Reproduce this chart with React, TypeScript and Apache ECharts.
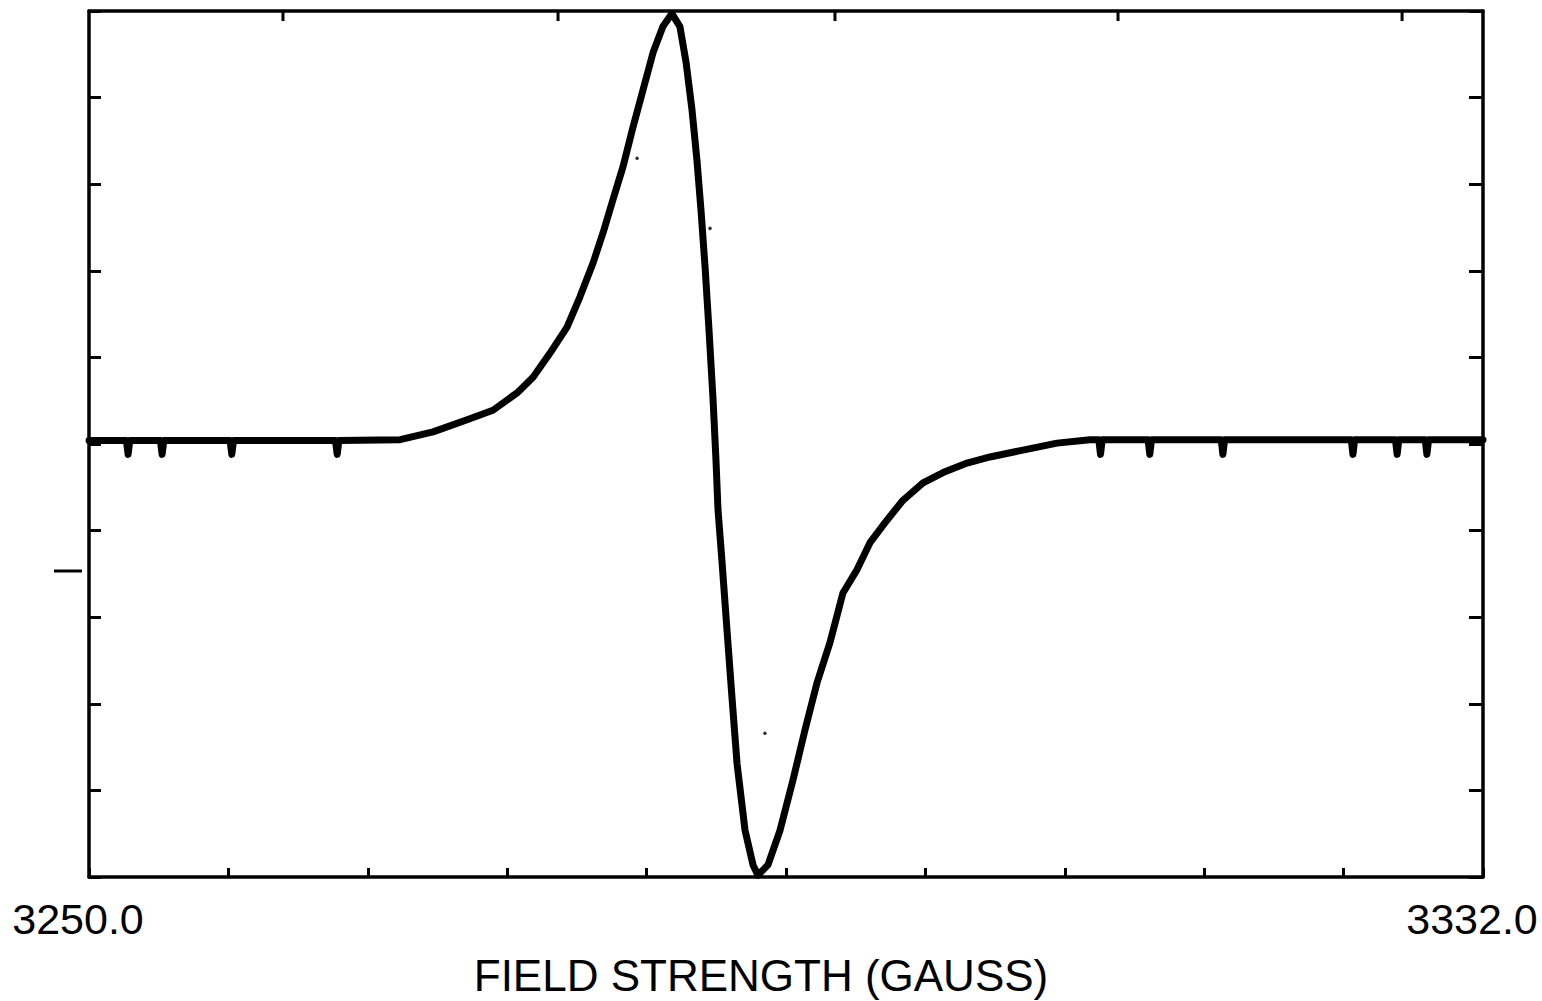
import React, { useEffect, useRef } from "react";
import * as echarts from "echarts";

// Magnetic field (gauss) and derivative signal (tick units)
const fieldG: number[] = [
  3250, 3252.2, 3252.3, 3252.4, 3254.2, 3254.3, 3254.4, 3258.3, 3258.4, 3258.5,
  3264.5, 3264.6, 3264.7, 3268.3, 3270.24, 3272.24, 3273.76, 3275.18, 3276.12,
  3277.12, 3278.12, 3278.88, 3279.65, 3280.24, 3280.82, 3281.41, 3282.0, 3282.59,
  3283.18, 3283.76, 3284.29, 3284.76, 3285.12, 3285.47, 3285.76, 3286.0, 3286.24,
  3286.47, 3286.71, 3286.88, 3287.0, 3287.24, 3287.53, 3287.82, 3288.12, 3288.59, 3289.06,
  3289.35, 3289.94, 3290.65, 3291.41, 3292.12, 3292.82, 3293.59, 3294.35, 3295.18,
  3295.94, 3296.94, 3297.88, 3299.06, 3300.24, 3301.65, 3303.0, 3304.94, 3306.94,
  3308.88, 3309.4, 3309.5, 3309.6, 3312.3, 3312.4, 3312.5, 3316.6, 3316.7, 3316.8,
  3324.25, 3324.35, 3324.45, 3326.85, 3326.95, 3327.05, 3328.6, 3328.7, 3328.8, 3332,
];
const signal: number[] = [
  0.04, 0.04, -0.12, 0.04, 0.04, -0.12, 0.04, 0.04, -0.12, 0.04,
  0.04, -0.12, 0.04, 0.05, 0.14, 0.28, 0.39, 0.59, 0.77,
  1.05, 1.35, 1.7, 2.09, 2.44, 2.82, 3.2, 3.66, 4.09,
  4.52, 4.82, 4.97, 4.82, 4.41, 3.86, 3.28, 2.7, 2.04,
  1.32, 0.51, -0.18, -0.76, -1.37, -2.15, -2.92, -3.69, -4.46, -4.86,
  -4.98, -4.86, -4.46, -3.88, -3.3, -2.76, -2.29, -1.72, -1.45,
  -1.14, -0.88, -0.65, -0.45, -0.33, -0.22, -0.15, -0.07, 0.01,
  0.05, 0.05, -0.12, 0.05, 0.05, -0.12, 0.05, 0.05, -0.12, 0.05,
  0.05, -0.12, 0.05, 0.05, -0.12, 0.05, 0.05, -0.12, 0.05, 0.05,
];

// stray plotter dots
const dotG: number[] = [3282.24, 3286.53, 3289.76];
const dotV: number[] = [3.3, 2.49, -3.34];

// tick positions
const bottomTicks: number[] = [3250, 3258.2, 3266.4, 3274.6, 3282.8, 3291, 3299.2, 3307.4, 3315.6, 3323.8, 3332];
const topTicks: number[] = [3261.41, 3277.59, 3293.88, 3310.53, 3327.24];
const xLabelValues: number[] = [3250, 3332];
const xLabelTexts: string[] = ["3250.0", "3332.0"];
const axisTitle = "FIELD STRENGTH (GAUSS)";

export default function App() {
  const ref = useRef<HTMLDivElement>(null);
  useEffect(() => {
    if (!ref.current) return;
    const chart = echarts.init(ref.current, null, { renderer: "svg" });
    const line = { onZero: false, lineStyle: { color: "#000", width: 3.5 } };
    const font = "Liberation Sans";
    const gridTop = 11;
    chart.setOption({
      animation: false,
      backgroundColor: "#fff",
      grid: { left: 89, right: 59, top: gridTop, bottom: 124, outerBoundsMode: "none", containLabel: false },
      xAxis: [
        {
          type: "value",
          min: 3250,
          max: 3332,
          position: "bottom",
          axisLine: { show: true, ...line },
          axisTick: { show: true, inside: true, length: 9, lineStyle: { color: "#000", width: 3 }, customValues: bottomTicks },
          axisLabel: {
            show: true,
            customValues: xLabelValues,
            formatter: (v: number) => {
              const i = xLabelValues.findIndex((x) => Math.abs(x - v) < 1e-6);
              return i >= 0 ? xLabelTexts[i] : "";
            },
            fontSize: 43,
            fontFamily: font,
            color: "#000",
            margin: 20,
            padding: [0, 22, 0, 0],
          },
          splitLine: { show: false },
          name: axisTitle,
          nameLocation: "middle",
          nameGap: 76,
          nameTextStyle: { fontSize: 44, fontFamily: font, color: "#000", padding: [0, 50, 0, 0] },
        },
        {
          type: "value",
          min: 3250,
          max: 3332,
          position: "top",
          axisLine: { show: true, ...line },
          axisTick: { show: false },
          axisLabel: { show: false },
          splitLine: { show: false },
        },
      ],
      yAxis: [
        {
          type: "value",
          min: -5,
          max: 5,
          interval: 1,
          position: "left",
          axisLine: { show: true, ...line },
          axisTick: { show: true, inside: true, length: 12, lineStyle: { color: "#000", width: 3 } },
          axisLabel: { show: false },
          splitLine: { show: false },
        },
        {
          type: "value",
          min: -5,
          max: 5,
          interval: 1,
          position: "right",
          axisLine: { show: true, ...line },
          axisTick: { show: true, inside: true, length: 14, lineStyle: { color: "#000", width: 3 } },
          axisLabel: { show: false },
          splitLine: { show: false },
        },
      ],
      series: [
        {
          type: "line",
          xAxisIndex: 0,
          yAxisIndex: 0,
          data: fieldG.map((g, i) => [g, signal[i]]),
          showSymbol: false,
          symbol: "none",
          clip: false,
          lineStyle: { color: "#000", width: 7, join: "round", cap: "round" },
        },
        {
          type: "scatter",
          xAxisIndex: 0,
          yAxisIndex: 0,
          data: dotG.map((g, i) => [g, dotV[i]]),
          symbolSize: 3.5,
          itemStyle: { color: "#000" },
        },
      ],
    });
    // top-edge ticks positioned through the axis scale
    const topTickGraphics = topTicks.map((v) => {
      const px = chart.convertToPixel({ xAxisIndex: 1 }, v) as number;
      return {
        type: "line",
        shape: { x1: px, y1: gridTop, x2: px, y2: gridTop + 10 },
        style: { stroke: "#000", lineWidth: 3 },
      };
    });
    chart.setOption({
      graphic: [
        {
          type: "line",
          shape: { x1: 54, y1: 571, x2: 82, y2: 571 },
          style: { stroke: "#000", lineWidth: 3 },
        },
        ...topTickGraphics,
      ],
    });
    return () => chart.dispose();
  }, []);
  return (
    <div
      ref={ref}
      style={{ position: "fixed", left: 0, top: 0, width: 1542, height: 1001, background: "#fff" }}
    />
  );
}
